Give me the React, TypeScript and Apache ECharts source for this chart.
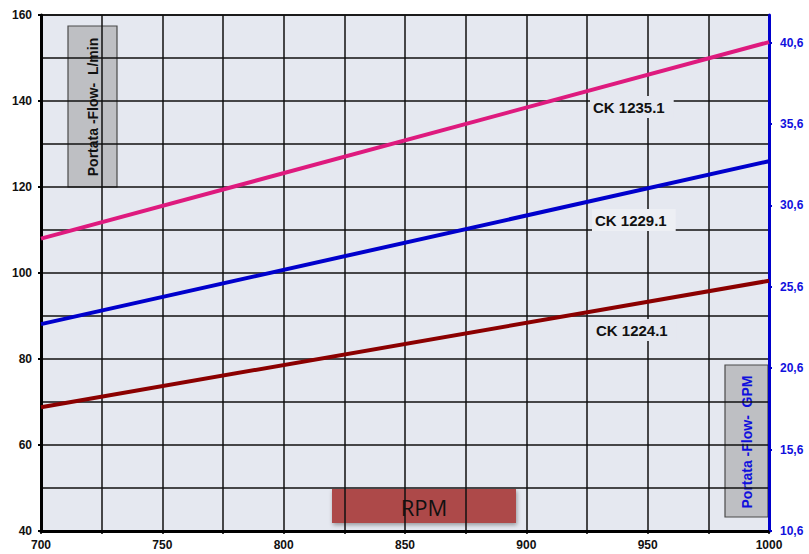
import React, { useEffect, useRef } from "react";
import * as echarts from "echarts";

const rpm = [700, 1000];
const ck1235 = [108.0, 153.7];
const ck1229 = [88.1, 126.0];
const ck1224 = [68.8, 98.2];
const seriesNames = ["CK 1235.1", "CK 1229.1", "CK 1224.1"];
const seriesColors = ["#DE1A7E", "#0000CC", "#8B0000"];
const LPM_PER_GPM = 3.7854;
const yMin = 40;
const yMax = 160;

const FONT = "Liberation Sans";

export default function App() {
  const ref = useRef<HTMLDivElement>(null);
  useEffect(() => {
    if (!ref.current) return;
    const chart = echarts.init(ref.current, null, { renderer: "svg" });
    const gridLine = { show: true, lineStyle: { color: "#111", width: 1.5 } };
    const toPairs = (vals: number[]) => rpm.map((x, i) => [x, vals[i]]);
    const datasets = [ck1235, ck1229, ck1224];
    const labelBox = (text: string, x: number, y: number, bg: string) => ({
      type: "text",
      left: x,
      top: y,
      z: 100,
      style: {
        text,
        fontSize: 15,
        fontWeight: "bold",
        fontFamily: FONT,
        fill: "#111",
        backgroundColor: bg,
        padding: [4, 9, 3, 3],
      },
    });
    chart.setOption({
      animation: false,
      backgroundColor: "#ffffff",
      grid: {
        left: 41,
        right: 40,
        top: 15,
        bottom: 23,
        show: true,
        backgroundColor: "#E5E8F0",
        borderColor: "#000",
        borderWidth: 1.5,
      },
      xAxis: {
        type: "value",
        min: 700,
        max: 1000,
        interval: 50,
        axisLine: { show: true, onZero: false, lineStyle: { color: "#000", width: 3 } },
        axisTick: { show: true, length: 3, lineStyle: { color: "#000", width: 1.5 } },
        minorTick: { show: true, splitNumber: 2, length: 3, lineStyle: { color: "#000", width: 1.5 } },
        splitLine: gridLine,
        minorSplitLine: gridLine,
        axisLabel: {
          color: "#111",
          fontWeight: "bold",
          fontSize: 12,
          fontFamily: FONT,
          margin: 8,
          formatter: (v: number) => String(v),
        },
      },
      yAxis: [
        {
          type: "value",
          min: yMin,
          max: yMax,
          interval: 20,
          axisLine: { show: true, lineStyle: { color: "#000", width: 3 } },
          axisTick: { show: true, length: 3, lineStyle: { color: "#000", width: 2 } },
          minorTick: { show: false, splitNumber: 2 },
          splitLine: gridLine,
          minorSplitLine: gridLine,
          axisLabel: { color: "#111", fontWeight: "bold", fontSize: 12, fontFamily: FONT, margin: 9 },
        },
        {
          type: "value",
          position: "right",
          min: 0,
          max: (yMax - yMin) / LPM_PER_GPM,
          interval: 5,
          axisLine: { show: true, lineStyle: { color: "#0000CC", width: 3 } },
          axisTick: { show: true, length: 3, lineStyle: { color: "#0000CC", width: 2 } },
          splitLine: { show: false },
          axisLabel: {
            color: "#1010DD",
            fontWeight: "bold",
            fontSize: 12,
            fontFamily: FONT,
            margin: 11,
            showMaxLabel: false,
            formatter: (v: number) => (v + yMin / LPM_PER_GPM).toFixed(1).replace(".", ","),
          },
        },
      ],
      series: datasets.map((d, i) => ({
        type: "line",
        name: seriesNames[i],
        yAxisIndex: 0,
        data: toPairs(d),
        showSymbol: false,
        symbol: "none",
        lineStyle: { color: seriesColors[i], width: 4 },
        z: 5,
      })),
      graphic: [
        labelBox(seriesNames[0], 590, 96, "#E5E8F0"),
        labelBox(seriesNames[1], 592, 209, "#EDEFF4"),
        labelBox(seriesNames[2], 593, 319, "#E5E8F0"),
        {
          type: "group",
          z: 100,
          children: [
            {
              type: "rect",
              shape: { x: 68, y: 26, width: 49, height: 161 },
              style: { fill: "#BEBFC3", stroke: "#4a4a4a", lineWidth: 1.2 },
            },
            {
              type: "text",
              x: 93,
              y: 107,
              rotation: Math.PI / 2,
              style: {
                text: "Portata -Flow-  L/min",
                fontSize: 14,
                fontWeight: "bold",
                fontFamily: FONT,
                fill: "#111",
                align: "center",
                verticalAlign: "middle",
              },
            },
            {
              type: "rect",
              shape: { x: 725, y: 365, width: 43, height: 152 },
              style: { fill: "#BEBFC3", stroke: "#4a4a4a", lineWidth: 1.2 },
            },
            {
              type: "text",
              x: 747,
              y: 442,
              rotation: Math.PI / 2,
              style: {
                text: "Portata -Flow-  GPM",
                fontSize: 14,
                fontWeight: "bold",
                fontFamily: FONT,
                fill: "#1010DD",
                align: "center",
                verticalAlign: "middle",
              },
            },
            {
              type: "rect",
              shape: { x: 332, y: 489, width: 184, height: 34 },
              style: {
                fill: "#AD4A4A",
                shadowBlur: 4,
                shadowColor: "rgba(0,0,0,0.35)",
                shadowOffsetX: 1,
                shadowOffsetY: 2,
              },
            },
            {
              type: "text",
              x: 424,
              y: 507,
              style: {
                text: "RPM",
                fontSize: 22,
                fontFamily: "Open Sans",
                fill: "#111",
                align: "center",
                verticalAlign: "middle",
              },
            },
          ],
        },
      ],
    });
    return () => chart.dispose();
  }, []);
  return (
    <div
      ref={ref}
      style={{ position: "fixed", left: 0, top: 0, width: 809, height: 554 }}
    />
  );
}
